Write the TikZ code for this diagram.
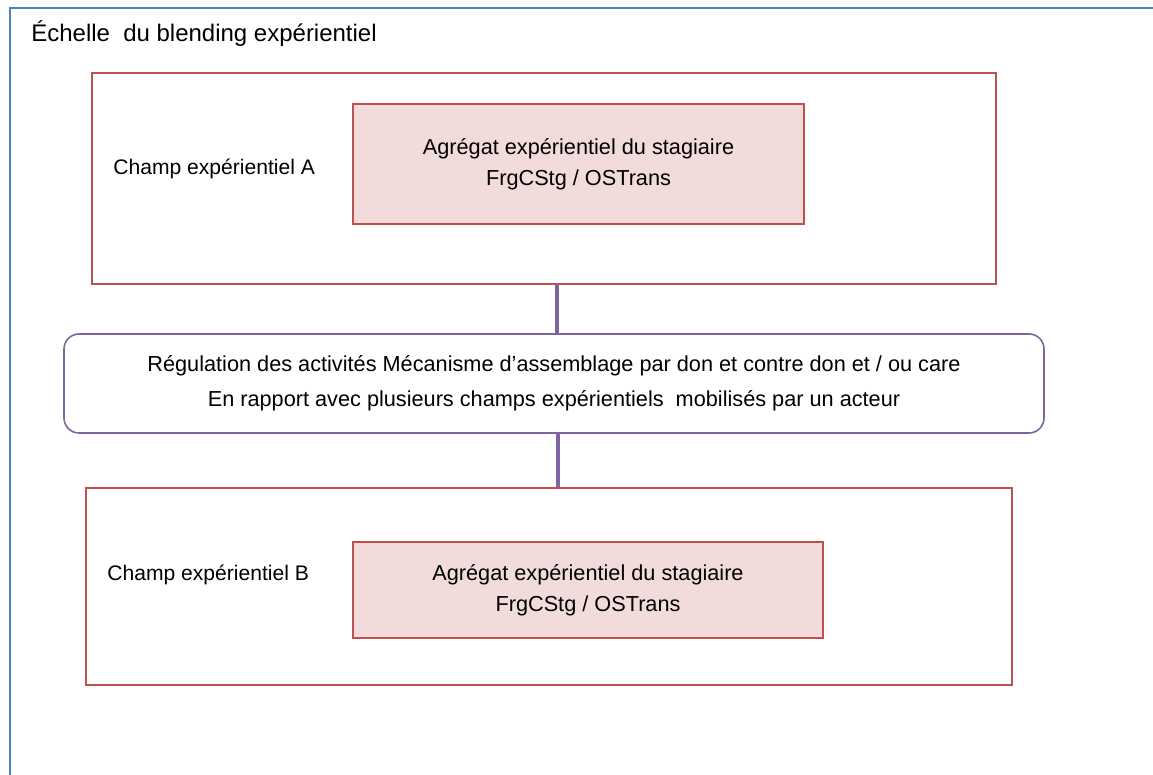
\documentclass[tikz,border=0pt]{standalone}
\usepackage{fontspec}
\setmainfont{Liberation Sans}
\usepackage{tikz}
\usetikzlibrary{calc}

\definecolor{cadreblue}{HTML}{4F81BD}
\definecolor{champred}{HTML}{C0504D}
\definecolor{agregatpink}{HTML}{F2DCDB}
\definecolor{regulpurple}{HTML}{8064A2}

\tikzset{
	champ/.style={draw=champred, line width=1.1pt, inner sep=0pt},
	agregat/.style={draw=champred, fill=agregatpink, line width=1.1pt, inner sep=0pt,
		align=center, font=\fontsize{12.35}{17.6}\selectfont},
	regul/.style={draw=regulpurple, fill=white, line width=0.9pt, rounded corners=0.3cm,
		inner sep=0pt, align=center, font=\fontsize{12.35}{19.9}\selectfont},
	lien/.style={draw=regulpurple, line width=2.3pt},
	etiquette/.style={anchor=base west, inner sep=0pt, font=\fontsize{12}{14}\selectfont}
}

\begin{document}
\begin{tikzpicture}
	\useasboundingbox (0,0) rectangle (23.06,-15.5);
	\draw [cadreblue, line width=1.1pt] (0.2,-15.5) -- (0.2,-0.16) -- (23.06,-0.16);
	\node [anchor=base west, inner sep=0pt, font=\fontsize{13.65}{16}\selectfont](TITRE) at (0.62,-0.83) {Échelle \ du blending expérientiel};

	\node [champ, minimum width=18.08cm, minimum height=4.22cm](CHA) at (10.88,-3.57) {};
	\node [agregat, minimum width=9.02cm, minimum height=2.4cm](AGA) at (11.57,-3.28) {Agrégat expérientiel du stagiaire\\FrgCStg / OSTrans};
	\node [etiquette](LBA) at (2.26,-3.48) {Champ expérientiel A};

	\node [regul, minimum width=19.6cm, minimum height=1.98cm](REG) at (11.08,-7.67) {Régulation des activités Mécanisme d’assemblage par don et contre don et / ou care\\En rapport avec plusieurs champs expérientiels \ mobilisés par un acteur};

	\node [champ, minimum width=18.52cm, minimum height=3.94cm](CHB) at (10.98,-11.73) {};
	\node [agregat, minimum width=9.4cm, minimum height=1.92cm](AGB) at (11.76,-11.8) {Agrégat expérientiel du stagiaire\\FrgCStg / OSTrans};
	\node [etiquette](LBB) at (2.14,-11.6) {Champ expérientiel B};

	\draw [lien] ($(REG.north |- CHA.south)+(0.06,0)$) to ($(REG.north)+(0.06,0)$);
	\draw [lien] ($(REG.south)+(0.08,0)$) to ($(REG.south |- CHB.north)+(0.08,0)$);
\end{tikzpicture}
\end{document}
